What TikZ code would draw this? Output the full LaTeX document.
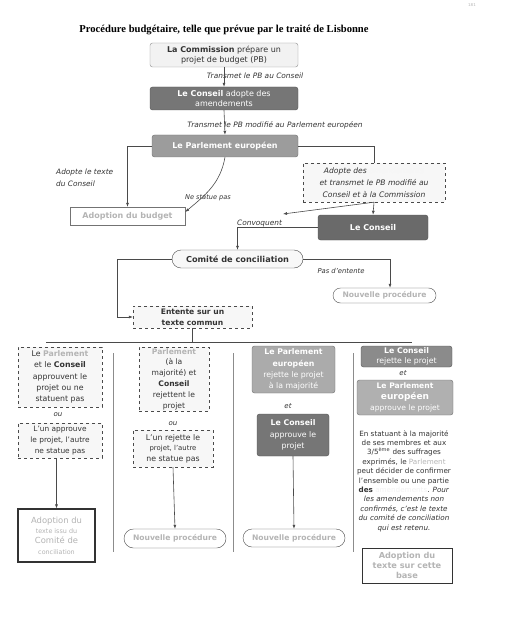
\documentclass[tikz,border=0pt]{standalone}
\usepackage{fontspec}
\setmainfont{DejaVu Sans}
\newfontfamily\titlefont{Liberation Serif}
\usetikzlibrary{positioning,arrows.meta}
\definecolor{linegrey}{HTML}{4A4A4A}
\definecolor{textgrey}{HTML}{333333}
\definecolor{palegrey}{HTML}{B4B4B4}
\definecolor{darkfill}{HTML}{767676}
\definecolor{midfill}{HTML}{9C9C9C}
\definecolor{lightfill}{HTML}{F2F2F2}
\newcommand{\pale}[1]{\textcolor{palegrey}{\textbf{#1}}}

\begin{document}
\begin{tikzpicture}[x=1pt,y=-1pt]
  \tikzset{EdgeStyle/.style={draw=linegrey,line width=0.6pt,-{Latex[length=4pt,width=3pt]}}}
  \tikzset{LineStyle/.style={draw=linegrey,line width=0.6pt}}
  \tikzset{BoxStyle/.style={rectangle,inner sep=0pt,align=center,text=textgrey,
      font=\fontsize{8}{10.5}\selectfont}}
  \tikzset{DarkStyle/.style={BoxStyle,rounded corners=2.5pt,fill=darkfill,draw=darkfill!70!black,text=white}}
  \tikzset{MidStyle/.style={BoxStyle,rounded corners=2.5pt,fill=midfill,draw=midfill!70!black,text=white}}
  \tikzset{DashStyle/.style={BoxStyle,dashed,draw=linegrey,fill=lightfill!60!white}}
  \tikzset{ColStyle/.style={font=\fontsize{7.8}{11.2}\selectfont}}
  \tikzset{PillStyle/.style={BoxStyle,draw=linegrey,fill=white,text=palegrey,font=\fontsize{7.6}{9}\selectfont\bfseries}}
  \tikzset{LabelStyle/.style={inner sep=0pt,text=textgrey,font=\fontsize{7.4}{12}\selectfont\itshape}}
  \useasboundingbox (0,0) rectangle (507,639);

  \node[inner sep=0pt,text=palegrey,font=\fontsize{4}{4}\selectfont] (Page) at (472,5) {181};
  \node[inner sep=0pt,font=\titlefont\fontsize{10.6}{12}\selectfont\bfseries] (Title) at (224,30)
    {Procédure budgétaire, telle que prévue par le traité de Lisbonne};

  \node[BoxStyle,rounded corners=2.5pt,fill=lightfill,draw=black!45,minimum width=148pt,minimum height=24pt] (Com) at (224,55)
    {\textbf{La Commission} prépare un\\projet de budget (PB)};
  \node[LabelStyle] (TrA) at (255,76) {Transmet le PB au Conseil};
  \node[DarkStyle,minimum width=148pt,minimum height=23pt] (ConsA) at (224,98.5)
    {\textbf{Le Conseil} adopte des\\amendements};
  \node[LabelStyle] (TrB) at (275,125) {Transmet le PB modifié au Parlement européen};
  \node[MidStyle,minimum width=146pt,minimum height=22pt,font=\fontsize{8}{10}\selectfont\bfseries] (Parl) at (225,146)
    {Le Parlement européen};

  \node[LabelStyle,anchor=west,align=left] (AdC) at (56,178) {Adopte le texte\\du Conseil};
  \node[BoxStyle,draw=black!55,fill=white,text=palegrey,minimum width=115pt,minimum height=18pt,
    font=\fontsize{8}{10}\selectfont\bfseries] (Budget) at (127.5,216) {Adoption du budget};
  \node[LabelStyle,font=\fontsize{6.6}{8}\selectfont\itshape] (Nsp) at (208,198) {Ne statue pas};
  \node[DashStyle,minimum width=142pt,minimum height=39pt,font=\fontsize{7.6}{12.3}\selectfont\itshape] (Amd) at (374,182.5)
    {Adopte des \textcolor{lightfill!70!white}{amendements}\\et transmet le PB modifié au\\Conseil et à la Commission};
  \node[DarkStyle,fill=darkfill!90!black,minimum width=110pt,minimum height=25pt,font=\fontsize{8}{10}\selectfont\bfseries] (ConsB) at (373,227.5)
    {Le Conseil};
  \coordinate (Loose) at (283,214);
  \node[LabelStyle,anchor=south west,inner sep=1pt] (Conv) at (236,228) {Convoquent};

  \node[BoxStyle,draw=linegrey,fill=lightfill!50!white,rounded corners=9pt,minimum width=131pt,minimum height=18pt,
    font=\fontsize{8.2}{10}\selectfont\bfseries] (Comite) at (237.5,259) {Comité de conciliation};
  \node[LabelStyle,font=\fontsize{6.8}{8}\selectfont\itshape] (Pde) at (341,271) {Pas d'entente};
  \node[PillStyle,rounded corners=7.5pt,minimum width=103pt,minimum height=15pt] (NpA) at (384.5,295.5) {Nouvelle procédure};
  \node[DashStyle,minimum width=119pt,minimum height=22pt,font=\fontsize{7.6}{11}\selectfont\bfseries] (Ent) at (192.5,317)
    {Entente sur un\\texte commun};

  \coordinate (HlA) at (46,342);
  \coordinate (HlB) at (412,342);
  \foreach \x in {113,233,353}
    \draw[LineStyle,draw=black!45] (\x,353) -- (\x,552);

  \node[DashStyle,ColStyle,minimum width=84pt,minimum height=60pt] (C1a) at (60,377)
    {Le \pale{Parlement}\\et le \textbf{Conseil}\\approuvent le\\projet ou ne\\statuent pas};
  \node[LabelStyle,font=\fontsize{7}{8}\selectfont\itshape] (Ou1) at (58,415) {ou};
  \node[DashStyle,ColStyle,minimum width=84pt,minimum height=35pt,font=\fontsize{7.4}{10.6}\selectfont] (C1b) at (60,440.5)
    {L'un approuve\\le projet, l'autre\\ne statue pas};
  \node[BoxStyle,draw=black!80,line width=1.1pt,fill=white,text=palegrey,minimum width=77pt,minimum height=53pt,
    font=\fontsize{8.4}{10.4}\selectfont] (C1c) at (56.5,535.5)
    {Adoption du\\{\fontsize{6.4}{10.4}\selectfont texte issu du}\\Comité de\\{\fontsize{6.4}{10.4}\selectfont conciliation}};

  \node[DashStyle,ColStyle,minimum width=70pt,minimum height=64pt,font=\fontsize{7.6}{10.8}\selectfont] (C2a) at (174,379)
    {\pale{Parlement}\\(à la\\majorité) et\\\textbf{Conseil}\\rejettent le\\projet};
  \node[LabelStyle,font=\fontsize{7}{8}\selectfont\itshape] (Ou2) at (173,424) {ou};
  \node[DashStyle,ColStyle,minimum width=80pt,minimum height=37pt,font=\fontsize{7.8}{10.6}\selectfont] (C2b) at (173,448.5)
    {L'un rejette le\\{\fontsize{6.9}{10.6}\selectfont projet, l'autre}\\ne statue pas};
  \node[PillStyle,rounded corners=9.5pt,minimum width=102pt,minimum height=19pt] (NpB) at (175,538.5) {Nouvelle procédure};

  \node[MidStyle,fill=midfill!85!white,ColStyle,minimum width=83pt,minimum height=47pt] (C3a) at (293.5,369.5)
    {\textbf{Le Parlement}\\\textbf{européen}\\rejette le projet\\à la majorité};
  \node[LabelStyle,font=\fontsize{7}{8}\selectfont\itshape] (Et1) at (288,406) {et};
  \node[DarkStyle,ColStyle,minimum width=72pt,minimum height=42pt] (C3b) at (293,435)
    {\textbf{Le Conseil}\\approuve le\\projet};
  \node[PillStyle,rounded corners=9pt,minimum width=102pt,minimum height=18pt] (NpC) at (294,538) {Nouvelle procédure};

  \node[DarkStyle,fill=darkfill!85!white,minimum width=91pt,minimum height=21pt,font=\fontsize{7.8}{10}\selectfont] (C4a) at (406.5,356.5)
    {\textbf{Le Conseil}\\rejette le projet};
  \node[LabelStyle,font=\fontsize{7}{8}\selectfont\itshape] (Et2) at (403,373) {et};
  \node[MidStyle,fill=midfill!80!white,minimum width=96pt,minimum height=35pt,font=\fontsize{7.6}{11}\selectfont] (C4b) at (405,397.5)
    {\textbf{Le Parlement}\\{\fontsize{9}{11}\selectfont\textbf{européen}}\\approuve le projet};
  \node[BoxStyle,font=\fontsize{7.2}{9.4}\selectfont] (C4t) at (404,481)
    {En statuant à la majorité\\de ses membres et aux\\3/5\textsuperscript{ème} des suffrages\\exprimés, le \textcolor{palegrey}{Parlement}\\peut décider de confirmer\\l'ensemble ou une partie\\\textbf{des} \textcolor{lightfill}{amendements}. \textit{Pour}\\\textit{les amendements non}\\\textit{confirmés, c'est le texte}\\\textit{du comité de conciliation}\\\textit{qui est retenu.}};
  \node[BoxStyle,draw=black!80,line width=0.9pt,fill=white,text=palegrey,minimum width=90pt,minimum height=35pt,
    font=\fontsize{8.2}{10}\selectfont\bfseries] (C4c) at (407,565.5)
    {Adoption du\\texte sur cette\\base};

  \draw[EdgeStyle] (Com.south -| ConsA.north) -- (ConsA.north);
  \draw[EdgeStyle] (ConsA.south) -- (Parl.north);
  \draw[EdgeStyle] (Parl.west) -| (Budget.north);
  \draw[EdgeStyle] (Parl.south) to[out=-100,in=40] ([yshift=4pt]Budget.east);
  \draw[LineStyle] (Parl.east) -| (Amd.north);
  \draw[EdgeStyle] (Amd.south) -- (ConsB.north);
  \draw[EdgeStyle] (Amd.south) -- (Loose);
  \draw[EdgeStyle] (ConsB.west) -| (Comite.north);
  \draw[EdgeStyle] (Comite.east) -| ([xshift=5.5pt]NpA.north);
  \draw[EdgeStyle] (Comite.west) -| ([xshift=-16pt]Ent.west) |- (Ent.west);
  \draw[LineStyle] (HlA) -- (HlB);
  \draw[LineStyle] (Ent.south) -- (Ent.south |- HlA);
  \draw[EdgeStyle] (C1c.north |- C1b.south) -- (C1c.north);
  \draw[EdgeStyle] (C2b.south) -- (NpB.north);
  \draw[EdgeStyle] (C3b.south) -- (NpC.north);
\end{tikzpicture}
\end{document}
